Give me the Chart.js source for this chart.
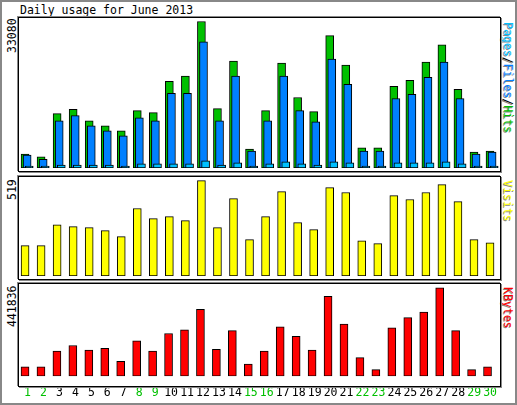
<!DOCTYPE html>
<html><head><meta charset="utf-8">
<script src="https://cdn.jsdelivr.net/npm/chart.js@4"></script>
<style>
body{margin:0;background:#fff;width:517px;height:405px;position:relative;overflow:hidden;font-family:"DejaVu Sans Mono",monospace;}
#frame{position:absolute;left:0;top:0;width:513px;height:401px;border:2px solid #888;}
.box{position:absolute;border:1px solid #000;box-shadow:1px 1px 0 #888, -1px -1px 0 #888;pointer-events:none;}
.cv{position:absolute;}
.t{position:absolute;font-size:11.5px;white-space:nowrap;}
.rotL{transform-origin:left top;transform:rotate(-90deg);}
.rotR{transform-origin:left top;transform:rotate(90deg);text-shadow:1px 1px 0 #888;}
</style></head><body>
<div id="frame"></div>
<div class="t" style="left:20px;top:3px;">Daily usage for June 2013</div>
<div class="t rotL" style="left:5px;top:53px;">33080</div>
<div class="t rotL" style="left:5px;top:200px;">519</div>
<div class="t rotL" style="left:5px;top:327px;">441836</div>
<div class="t rotR" style="left:515px;top:22px;"><span style="color:#00c0ff">Pages</span><span style="color:#000">/</span><span style="color:#0080ff">Files</span><span style="color:#000">/</span><span style="color:#00c000">Hits</span></div>
<div class="t rotR" style="left:515px;top:180px;color:#ffff00">Visits</div>
<div class="t rotR" style="left:515px;top:287px;color:#ff0000">KBytes</div>
<canvas id="c1" class="cv" style="left:18px;top:17px;"></canvas>
<canvas id="c2" class="cv" style="left:18px;top:176px;"></canvas>
<canvas id="c3" class="cv" style="left:18px;top:283px;"></canvas>
<div class="box" style="left:18px;top:17px;width:481px;height:153px;"></div>
<div class="box" style="left:18px;top:176px;width:481px;height:102px;"></div>
<div class="box" style="left:18px;top:283px;width:481px;height:102px;"></div>
<script>
const days=[1,2,3,4,5,6,7,8,9,10,11,12,13,14,15,16,17,18,19,20,21,22,23,24,25,26,27,28,29,30];
const weekend=[1,2,8,9,15,16,22,23,29,30];
const hits=[3125,2515,12272,13262,10671,9528,8384,12958,12500,19589,20732,33080,13415,24162,4268,12958,23705,15930,12729,29879,23247,4573,4573,18446,19817,23933,27821,17759,3582,3811];
const files=[2896,1982,10671,11814,9528,8384,7241,11357,10671,16845,16845,28507,10671,20732,3811,10671,20732,12958,10442,24620,18903,3811,3811,15702,16616,20503,23933,15702,3125,3582];
const pages=[457,457,686,686,686,686,457,915,915,915,915,1600,686,1143,457,915,1372,915,686,1372,1143,457,457,1143,1143,1143,1372,915,457,457];
const visits=[165,165,279,269,263,247,214,367,312,323,301,519,263,421,198,323,459,290,252,481,454,192,176,437,416,454,497,405,198,181];
const kbytes=[46509,46509,125574,153480,130225,139527,74414,176735,125574,213942,232545,334865,134876,227894,60462,125574,246498,199988,130225,399978,260450,93018,32556,241847,293003,320912,441836,227894,32556,46509];

function pts(arr,off){return arr.map((v,i)=>({x:days[i]+off,y:v}));}
function ds(arr,off,color,order){return {data:pts(arr,off),backgroundColor:color,borderColor:'#000',borderWidth:1,barThickness:8,grouped:false,order:order,borderSkipped:false};}
function mk(id,w,h,datasets,ymax,showX){
  const c=document.getElementById(id);c.width=w;c.height=h;c.style.width=w+'px';c.style.height=h+'px';
  new Chart(c,{type:'bar',data:{datasets:datasets},options:{
    responsive:false,animation:false,devicePixelRatio:1,
    layout:{padding:{left:0,right:0,top:0,bottom:0}},
    plugins:{legend:{display:false},tooltip:{enabled:false}},
    scales:{
      x:{type:'linear',min:0.5,max:30.5,offset:false,display:showX,grid:{display:false},border:{display:false},
        afterBuildTicks:s=>{s.ticks=days.map(d=>({value:d+0.1}));},
        ticks:{autoSkip:false,maxRotation:0,padding:2,font:{family:'DejaVu Sans Mono',size:11.5},
          callback:(v,i)=>String(days[i]),color:ctx=>weekend.includes(days[ctx.index])?'#00c000':'#000'}},
      y:{display:false,min:0,max:ymax}
    }}});
}
mk('c1',481,151,[ds(hits,-0.06,'#00c000',3),ds(files,0.07,'#0080ff',2),ds(pages,0.2,'#00c0ff',1)],34100,false);
mk('c2',481,100,[ds(visits,-0.06,'#ffff00',1)],544,false);
mk('c3',481,119,[ds(kbytes,-0.06,'#ff0000',1)],466500,true);
</script>
</body></html>
